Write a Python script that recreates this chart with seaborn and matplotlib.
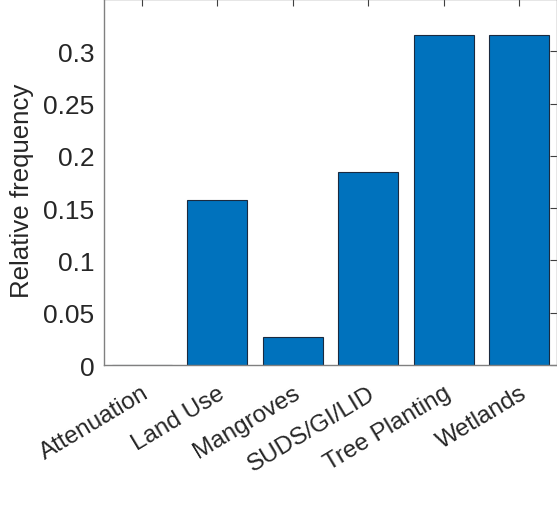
import matplotlib
matplotlib.use("Agg")
import matplotlib.pyplot as plt
import seaborn as sns
import pandas as pd

categories = ["Attenuation", "Land Use", "Mangroves", "SUDS/GI/LID", "Tree Planting", "Wetlands"]
frequency = [0.0, 0.1579, 0.0263, 0.1842, 0.3158, 0.3158]
y_ticks = [0, 0.05, 0.1, 0.15, 0.2, 0.25, 0.3]
y_tick_labels = ["0", "0.05", "0.1", "0.15", "0.2", "0.25", "0.3"]

sns.set_theme(style="white")
plt.rcParams["font.family"] = ["Liberation Sans", "DejaVu Sans"]

df = pd.DataFrame({"category": categories, "freq": frequency})

fig = plt.figure(figsize=(5.57, 5.06), dpi=100)
ax = fig.add_axes([104 / 557, 1 - 366 / 506, 453 / 557, 366 / 506])

sns.barplot(data=df, x="category", y="freq", color="#0072BD", saturation=1,
            width=0.8, edgecolor="#1a2a40", linewidth=0.8, ax=ax)

ax.set_xlim(-0.5, len(categories) - 0.5)
ax.set_ylim(0, 0.35)
ax.set_yticks(y_ticks)
ax.set_yticklabels(y_tick_labels)
ax.set_xlabel("")
ax.set_ylabel("Relative frequency", fontsize=18.6, color="#262626")
ax.yaxis.set_label_coords(-0.155, 0.478)

for s in ax.spines.values():
    s.set_visible(True)
    s.set_color("#808080")
    s.set_linewidth(1.0)

ax.tick_params(axis="both", direction="in", length=5, width=0.8, color="#404040",
               top=True, right=True, labelsize=19, labelcolor="#262626")
ax.tick_params(axis="y", pad=7)
ax.tick_params(axis="x", pad=12)
for lbl in ax.get_xticklabels():
    lbl.set_rotation(31)
    lbl.set_ha("right")
    lbl.set_va("top")
    lbl.set_rotation_mode("anchor")
    lbl.set_fontsize(17.5)

fig.savefig("out.png", dpi=100)
